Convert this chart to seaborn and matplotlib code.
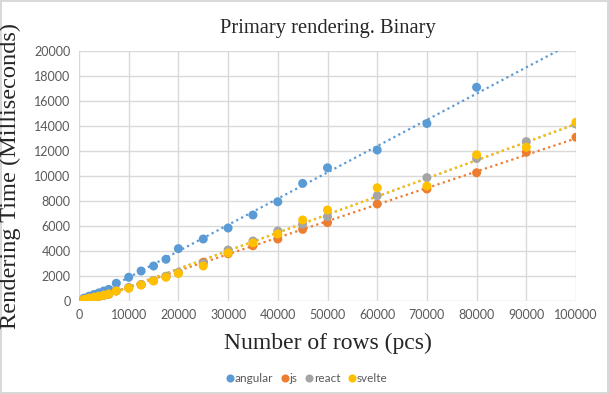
import matplotlib
matplotlib.use("Agg")
import matplotlib.pyplot as plt
import seaborn as sns
import pandas as pd

# ==========================================
# DONNEES
# ==========================================
rows = [1000, 2000, 3000, 4000, 5000, 6000, 7500, 10000, 12500, 15000, 17500,
        20000, 25000, 30000, 35000, 40000, 45000, 50000, 60000, 70000, 80000,
        90000, 100000]

angular = [230, 380, 520, 650, 800, 930, 1420, 1900, 2400, 2800, 3340, 4190,
           4960, 5840, 6880, 7940, 9410, 10660, 12080, 14200, 17100]
js = [130, 210, 290, 370, 450, 540, 800, 1050, 1300, 1630, 1950, 2250, 3100,
      3780, 4420, 4960, 5730, 6270, 7760, 8960, 10260, 11900, 13100]
react = [140, 230, 310, 390, 480, 570, 820, 1080, 1320, 1650, 1980, 2280, 3000,
         4080, 4800, 5600, 6150, 6750, 8420, 9870, 11400, 12750, 14150]
svelte = [130, 220, 300, 380, 460, 560, 800, 1020, 1280, 1600, 1900, 2200, 2800,
          3850, 4650, 5360, 6480, 7280, 9060, 9200, 11700, 12300, 14300]

frameworks = ["angular", "js", "react", "svelte"]
couleurs = ["#5B9BD5", "#ED7D31", "#A5A5A5", "#FFC000"]

df = pd.concat([
    pd.DataFrame({"rows": rows[:len(vals)], "time": vals, "framework": nom})
    for nom, vals in zip(frameworks, [angular, js, react, svelte])
])

# ==========================================
# GRAPHIQUE
# ==========================================
sns.set_style("whitegrid")
plt.rcParams["font.family"] = ["Liberation Serif", "DejaVu Serif"]

fig = plt.figure(figsize=(6.09, 3.94), dpi=100)
fig.patch.set_edgecolor("#D9D9D9")
fig.patch.set_linewidth(1.5)
ax = fig.add_axes([79 / 609, 1 - 301 / 394, (576 - 79) / 609, (301 - 51) / 394])

ax.set_xlim(0, 100000)
ax.set_ylim(0, 20000)

# lignes de tendance (pointillés)
for nom, couleur in zip(frameworks, couleurs):
    sns.regplot(data=df[df["framework"] == nom], x="rows", y="time", ax=ax,
                scatter=False, ci=None, truncate=False, color=couleur,
                line_kws={"linestyle": (0, (1, 1.5)), "linewidth": 1.6})

sns.scatterplot(data=df, x="rows", y="time", hue="framework", palette=couleurs,
                s=42, edgecolor="none", ax=ax, zorder=3)

ax.set_xlim(0, 100000)
ax.set_ylim(0, 20000)
ax.set_xticks(range(0, 100001, 10000))
ax.set_yticks(range(0, 20001, 2000))
ax.grid(True, color="#D9D9D9", linewidth=1)
for s in ax.spines.values():
    s.set_visible(False)
ax.tick_params(length=0, labelsize=9, labelcolor="#595959", pad=6)
for lab in ax.get_xticklabels() + ax.get_yticklabels():
    lab.set_family("Lato")

ax.set_title("Primary rendering. Binary", fontsize=14.8, pad=13)
ax.set_xlabel("Number of rows (pcs)", fontsize=17, labelpad=8)
ax.set_ylabel("Rendering Time (Milliseconds)", fontsize=17.6)
ax.yaxis.set_label_coords(-0.117, 0.5)

handles, labels = ax.get_legend_handles_labels()
ax.get_legend().remove()
fig.legend(handles, labels, loc="center", bbox_to_anchor=(0.5, 15 / 394),
           ncol=4, frameon=False, handletextpad=-0.3, columnspacing=0.3,
           handlelength=1.4, prop={"family": "Lato", "size": 8.5},
           labelcolor="#595959", markerscale=0.9)

fig.savefig("out.png", dpi=100, edgecolor=fig.get_edgecolor())
